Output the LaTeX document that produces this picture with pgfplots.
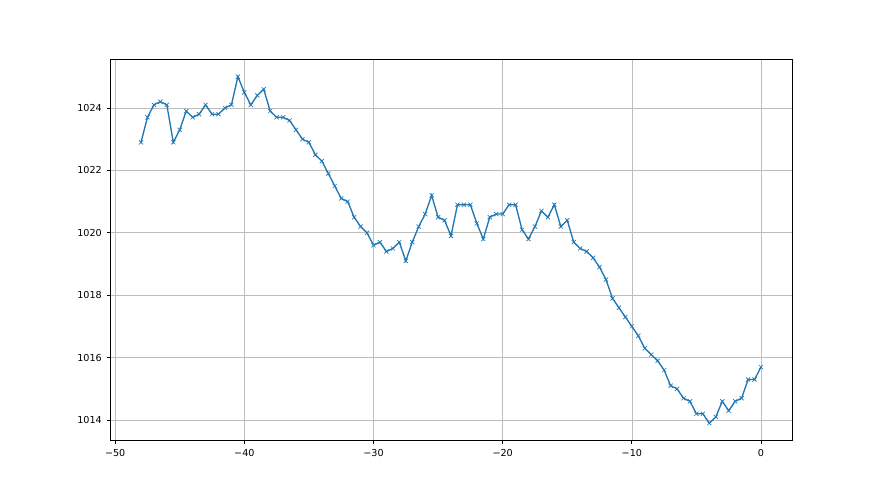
\documentclass[border=0pt]{standalone}
\usepackage{pgfplots}
\pgfplotsset{compat=1.18}
\usepackage{fontspec}
\setmainfont{DejaVu Sans}
\begin{document}
\begin{tikzpicture}
\path[use as bounding box, fill=white] (0,0) rectangle (660pt,371.25pt);
\begin{axis}[
  at={(82.5pt,40.875pt)}, anchor=south west,
  scale only axis, width=511.5pt, height=285.8pt,
  xmin=-50.4, xmax=2.4, ymin=1013.345, ymax=1025.555,
  xtick={-50,-40,-30,-20,-10,0},
  xticklabels={−50,−40,−30,−20,−10,0},
  ytick={1014,1016,1018,1020,1022,1024},
  /pgf/number format/assume math mode=true,
  /pgf/number format/set thousands separator={},
  tick label style={font=\fontsize{7.2pt}{9pt}\selectfont},
  tick align=outside, xtick pos=bottom, ytick pos=left,
  major tick length=2.6pt,
  every tick/.style={black, line width=0.6pt},
  axis line style={line width=0.6pt},
  grid=major,
  major grid style={color=black!26, line width=0.5pt},
  xticklabel style={yshift=-0.5pt},
]
\addplot[color={rgb,255:red,31;green,119;blue,180}, line width=1pt, mark=x, mark size=2.2pt, mark options={line width=0.5pt}] coordinates {
(-48,1022.9) (-47.5,1023.7) (-47,1024.1) (-46.5,1024.2) (-46,1024.1)
(-45.5,1022.9) (-45,1023.3) (-44.5,1023.9) (-44,1023.7) (-43.5,1023.8)
(-43,1024.1) (-42.5,1023.8) (-42,1023.8) (-41.5,1024.0) (-41,1024.1)
(-40.5,1025.0) (-40,1024.5) (-39.5,1024.1) (-39,1024.4) (-38.5,1024.6)
(-38,1023.9) (-37.5,1023.7) (-37,1023.7) (-36.5,1023.6) (-36,1023.3)
(-35.5,1023.0) (-35,1022.9) (-34.5,1022.5) (-34,1022.3) (-33.5,1021.9)
(-33,1021.5) (-32.5,1021.1) (-32,1021.0) (-31.5,1020.5) (-31,1020.2)
(-30.5,1020.0) (-30,1019.6) (-29.5,1019.7) (-29,1019.4) (-28.5,1019.5)
(-28,1019.7) (-27.5,1019.1) (-27,1019.7) (-26.5,1020.2) (-26,1020.6)
(-25.5,1021.2) (-25,1020.5) (-24.5,1020.4) (-24,1019.9) (-23.5,1020.9)
(-23,1020.9) (-22.5,1020.9) (-22,1020.3) (-21.5,1019.8) (-21,1020.5)
(-20.5,1020.6) (-20,1020.6) (-19.5,1020.9) (-19,1020.9) (-18.5,1020.1)
(-18,1019.8) (-17.5,1020.2) (-17,1020.7) (-16.5,1020.5) (-16,1020.9)
(-15.5,1020.2) (-15,1020.4) (-14.5,1019.7) (-14,1019.5) (-13.5,1019.4)
(-13,1019.2) (-12.5,1018.9) (-12,1018.5) (-11.5,1017.9) (-11,1017.6)
(-10.5,1017.3) (-10,1017.0) (-9.5,1016.7) (-9,1016.3) (-8.5,1016.1)
(-8,1015.9) (-7.5,1015.6) (-7,1015.1) (-6.5,1015.0) (-6,1014.7)
(-5.5,1014.6) (-5,1014.2) (-4.5,1014.2) (-4,1013.9) (-3.5,1014.1)
(-3,1014.6) (-2.5,1014.3) (-2,1014.6) (-1.5,1014.7) (-1,1015.3)
(-0.5,1015.3) (0,1015.7)
};
\end{axis}
\end{tikzpicture}
\end{document}
